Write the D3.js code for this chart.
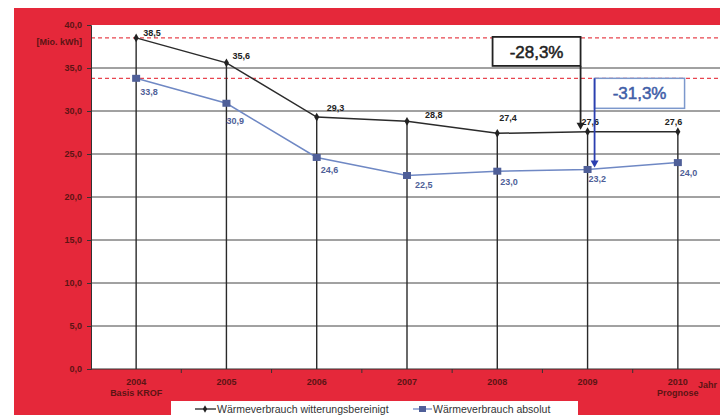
<!DOCTYPE html>
<html>
<head>
<meta charset="utf-8">
<script src="https://cdn.jsdelivr.net/npm/d3@7"></script>
<style>
  body { margin: 0; background: #fff; }
  text { font-family: "Liberation Sans", Arial, sans-serif; }
</style>
</head>
<body>
<div id="chart"></div>
<script>
// Data
var years = ["2004", "2005", "2006", "2007", "2008", "2009", "2010"];
var subLabels = ["Basis KROF", "", "", "", "", "", "Prognose"];
var bereinigt = [38.5, 35.6, 29.3, 28.8, 27.4, 27.6, 27.6];
var absolut = [33.8, 30.9, 24.6, 22.5, 23.0, 23.2, 24.0];
var yTicks = [0, 5, 10, 15, 20, 25, 30, 35, 40];
var seriesNames = ["Wärmeverbrauch witterungsbereinigt", "Wärmeverbrauch absolut"];

// label nudges (px), as placed in the original
var lab1dx = [7, 6, 10, 18, 2, -6, -13], lab1dy = [-2, -4, -6, -3, -12, -7, -7];
var lab2dx = [4, 0, 4, 8, 3, 1, 2], lab2dy = [17, 21, 16, 12, 14, 13, 13];

var W = 720, H = 415;
var margin = {top: 25, right: -3, bottom: 46, left: 91},
    width = W - margin.left - margin.right,
    height = H - margin.top - margin.bottom;

var fmt = function(v) { return d3.format(".1f")(v).replace(".", ","); };

var root = d3.select("#chart")
  .append("svg")
    .attr("width", W)
    .attr("height", H);

// red frame
root.append("rect")
  .attr("x", 14).attr("y", 8)
  .attr("width", W - 14).attr("height", H - 8)
  .attr("fill", "#e5283a");

var svg = root.append("g")
  .attr("transform", "translate(" + margin.left + "," + margin.top + ")");

// plot area
svg.append("rect")
  .attr("width", width).attr("height", height)
  .attr("fill", "#fff");

var x = d3.scaleBand().domain(years).range([0, width]).padding(0);
var cx = function(i) { return x(years[i]) + x.bandwidth() / 2; };
var y = d3.scaleLinear().domain([0, 40]).range([height, 0]);

// horizontal grid
svg.selectAll("hgrid")
  .data(yTicks.filter(function(d) { return d > 0 && d < 40; }))
  .enter().append("line")
    .attr("x1", 0).attr("x2", width)
    .attr("y1", function(d) { return y(d); })
    .attr("y2", function(d) { return y(d); })
    .attr("stroke", "#444").attr("stroke-width", 1);

// red dashed reference lines
svg.selectAll("refline")
  .data([bereinigt[0], absolut[0]])
  .enter().append("line")
    .attr("x1", 0).attr("x2", width)
    .attr("y1", function(d) { return y(d); })
    .attr("y2", function(d) { return y(d); })
    .attr("stroke", "#e8454f").attr("stroke-width", 1.2)
    .attr("stroke-dasharray", "4,3");

// drop lines
svg.selectAll("drop")
  .data(bereinigt)
  .enter().append("line")
    .attr("x1", function(d, i) { return cx(i); })
    .attr("x2", function(d, i) { return cx(i); })
    .attr("y1", function(d) { return y(d); })
    .attr("y2", height)
    .attr("stroke", "#2a2a2a").attr("stroke-width", 1.4);

// axes
var yAxis = svg.append("g")
  .call(d3.axisLeft(y).tickValues(yTicks).tickSize(4).tickFormat(fmt));
yAxis.select(".domain").attr("stroke", "#333");
yAxis.selectAll("line").attr("stroke", "#333");
yAxis.selectAll("text")
  .attr("fill", "#5c1414")
  .style("font-size", "9px")
  .style("font-weight", "bold")
  .attr("x", -9);

svg.append("line")
  .attr("x1", 0).attr("x2", width)
  .attr("y1", height).attr("y2", height)
  .attr("stroke", "#333").attr("stroke-width", 1.2);

svg.selectAll("xtick")
  .data(years.slice(1))
  .enter().append("line")
    .attr("x1", function(d) { return x(d); })
    .attr("x2", function(d) { return x(d); })
    .attr("y1", height).attr("y2", height + 4)
    .attr("stroke", "#333");

svg.selectAll("xlab")
  .data(years)
  .enter().append("text")
    .attr("x", function(d, i) { return cx(i); })
    .attr("y", height + 16)
    .attr("text-anchor", "middle")
    .attr("fill", "#5c1414")
    .style("font-size", "9px").style("font-weight", "bold")
    .text(function(d) { return d; });

svg.selectAll("xsub")
  .data(subLabels)
  .enter().append("text")
    .attr("x", function(d, i) { return cx(i); })
    .attr("y", height + 27)
    .attr("text-anchor", "middle")
    .attr("fill", "#5c1414")
    .style("font-size", "9px").style("font-weight", "bold")
    .text(function(d) { return d; });

svg.append("text")
  .attr("x", 607).attr("y", height + 19)
  .attr("fill", "#5c1414")
  .style("font-size", "9px").style("font-weight", "bold")
  .text("Jahr");

svg.append("text")
  .attr("x", -9).attr("y", y(38) + 3)
  .attr("text-anchor", "end")
  .attr("fill", "#5c1414")
  .style("font-size", "9px").style("font-weight", "bold")
  .text("[Mio. kWh]");

// lines
var line = d3.line()
  .x(function(d, i) { return cx(i); })
  .y(function(d) { return y(d); });

svg.append("path").datum(absolut)
  .attr("d", line).attr("fill", "none")
  .attr("stroke", "#6f88c4").attr("stroke-width", 1.5);

svg.append("path").datum(bereinigt)
  .attr("d", line).attr("fill", "none")
  .attr("stroke", "#2b2b2b").attr("stroke-width", 1.5);

// markers
svg.selectAll("sq")
  .data(absolut)
  .enter().append("rect")
    .attr("x", function(d, i) { return cx(i) - 4; })
    .attr("y", function(d) { return y(d) - 3.5; })
    .attr("width", 8).attr("height", 7)
    .attr("fill", "#4f5f98");

svg.selectAll("dm")
  .data(bereinigt)
  .enter().append("path")
    .attr("d", d3.symbol().type(d3.symbolDiamond).size(22))
    .attr("transform", function(d, i) { return "translate(" + cx(i) + "," + y(d) + ")"; })
    .attr("fill", "#222");

// data labels
svg.selectAll("lb1")
  .data(bereinigt)
  .enter().append("text")
    .attr("x", function(d, i) { return cx(i) + lab1dx[i]; })
    .attr("y", function(d, i) { return y(d) + lab1dy[i]; })
    .attr("fill", "#222")
    .style("font-size", "9px").style("font-weight", "bold")
    .text(fmt);

svg.selectAll("lb2")
  .data(absolut)
  .enter().append("text")
    .attr("x", function(d, i) { return cx(i) + lab2dx[i]; })
    .attr("y", function(d, i) { return y(d) + lab2dy[i]; })
    .attr("fill", "#4f5f98")
    .style("font-size", "9px").style("font-weight", "bold")
    .text(fmt);

// annotations
var i9 = years.indexOf("2009");
var ax1 = cx(i9) - 7, ax2 = cx(i9) + 7;

svg.append("rect")
  .attr("x", ax1 - 88).attr("y", y(bereinigt[0]) - 1)
  .attr("width", 88).attr("height", 29)
  .attr("fill", "#fff").attr("stroke", "#222").attr("stroke-width", 1.8);
svg.append("text")
  .attr("x", ax1 - 44).attr("y", y(bereinigt[0]) + 20)
  .attr("text-anchor", "middle").attr("fill", "#222")
  .attr("stroke", "#222").attr("stroke-width", 0.5)
  .style("font-size", "17px")
  .text("-28,3%");
svg.append("line")
  .attr("x1", ax1).attr("x2", ax1)
  .attr("y1", y(bereinigt[0]) + 28).attr("y2", y(bereinigt[i9]) - 5)
  .attr("stroke", "#222").attr("stroke-width", 1.8);
svg.append("path")
  .attr("d", "M" + (ax1 - 4) + "," + (y(bereinigt[i9]) - 9) + "L" + (ax1 + 4) + "," + (y(bereinigt[i9]) - 9) + "L" + ax1 + "," + (y(bereinigt[i9]) - 2) + "Z")
  .attr("fill", "#222");

svg.append("rect")
  .attr("x", ax2).attr("y", y(absolut[0]))
  .attr("width", 90).attr("height", 30)
  .attr("fill", "#fff").attr("stroke", "#7c98cc").attr("stroke-width", 1.5);
svg.append("text")
  .attr("x", ax2 + 45).attr("y", y(absolut[0]) + 21)
  .attr("text-anchor", "middle").attr("fill", "#3f5ea8")
  .attr("stroke", "#3f5ea8").attr("stroke-width", 0.5)
  .style("font-size", "17px")
  .text("-31,3%");
svg.append("line")
  .attr("x1", ax2).attr("x2", ax2)
  .attr("y1", y(absolut[0])).attr("y2", y(absolut[i9]) - 5)
  .attr("stroke", "#2b3fb0").attr("stroke-width", 1.8);
svg.append("path")
  .attr("d", "M" + (ax2 - 4) + "," + (y(absolut[i9]) - 9) + "L" + (ax2 + 4) + "," + (y(absolut[i9]) - 9) + "L" + ax2 + "," + (y(absolut[i9]) - 2) + "Z")
  .attr("fill", "#2b3fb0");

// legend
var lg = root.append("g").attr("transform", "translate(171,401)");
lg.append("rect").attr("width", 407).attr("height", 16).attr("fill", "#fff");
lg.append("line").attr("x1", 24).attr("x2", 45).attr("y1", 8).attr("y2", 8)
  .attr("stroke", "#222").attr("stroke-width", 1.3);
lg.append("path").attr("d", d3.symbol().type(d3.symbolDiamond).size(16))
  .attr("transform", "translate(34,8)").attr("fill", "#222");
lg.append("text").attr("x", 46).attr("y", 11.5)
  .attr("fill", "#333").style("font-size", "10.5px")
  .text(seriesNames[0]);
lg.append("line").attr("x1", 242).attr("x2", 261).attr("y1", 8).attr("y2", 8)
  .attr("stroke", "#6f88c4").attr("stroke-width", 1.3);
lg.append("rect").attr("x", 248).attr("y", 5).attr("width", 7).attr("height", 6)
  .attr("fill", "#4f5f98");
lg.append("text").attr("x", 262).attr("y", 11.5)
  .attr("fill", "#333").style("font-size", "10.5px")
  .text(seriesNames[1]);
</script>
</body>
</html>
